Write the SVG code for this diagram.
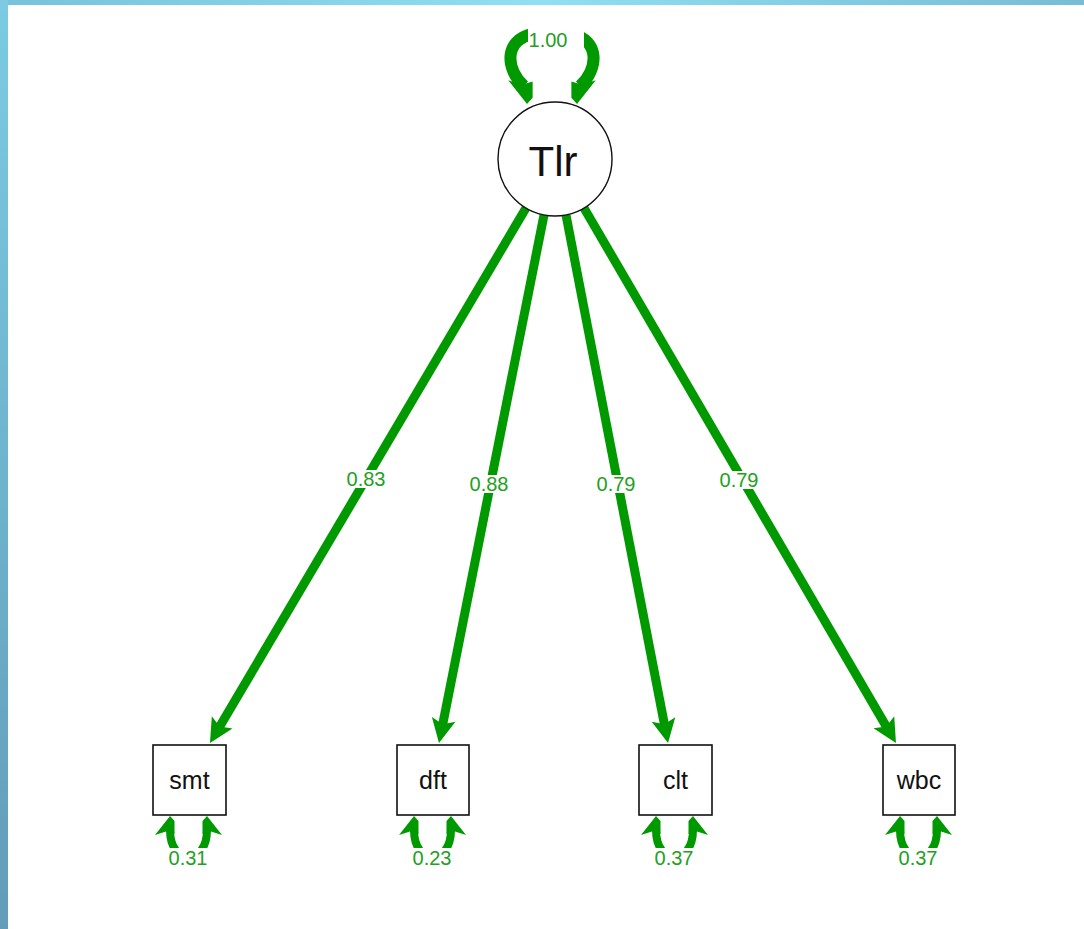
<svg xmlns="http://www.w3.org/2000/svg" width="1084" height="929" viewBox="0 0 1084 929">
  <style>
    .path { fill: none; stroke: #009900; stroke-linecap: butt; }
    .load { stroke-width: 9; }
    .res { stroke-width: 8; }
    .var { stroke-width: 12; }
    .head { fill: #009900; }
    .lbl { font-family: "Liberation Sans", Arial, sans-serif; font-size: 20px; fill: #22a022; text-anchor: middle; }
    .lblbg { fill: #ffffff; }
    .obs { fill: #ffffff; stroke: #111111; stroke-width: 1.6; }
    .lat { fill: #ffffff; stroke: #111111; stroke-width: 1.4; }
    .name { font-family: "Liberation Sans", Arial, sans-serif; fill: #111111; text-anchor: middle; }
  </style>
  <defs>
    <linearGradient id="topband" x1="0" y1="0" x2="1" y2="0">
      <stop offset="0" stop-color="#78c2dc"/>
      <stop offset="0.5" stop-color="#8ee0f2"/>
      <stop offset="1" stop-color="#78bcd6"/>
    </linearGradient>
    <linearGradient id="leftband" x1="0" y1="0" x2="0" y2="1">
      <stop offset="0" stop-color="#7ccbe2"/>
      <stop offset="1" stop-color="#629cb9"/>
    </linearGradient>
    <!-- loading arrowhead, tip 16px beyond the line end -->
    <marker id="arrow" markerUnits="userSpaceOnUse" markerWidth="1" markerHeight="1" orient="auto" refX="0" refY="0" overflow="visible">
      <path class="head" d="M16,0 L-8,-12 L-3,0 L-8,12 Z"/>
    </marker>
    <!-- half-kite head pointing up, wing to the left, tip at origin -->
    <path id="hk" class="head" d="M0,0 L4.5,5 L4.5,18 L-4,15.5 L-15,19 Z"/>
  </defs>

  <!-- window frame -->
  <rect x="0" y="0" width="1084" height="929" fill="#ffffff"/>
  <rect x="0" y="0" width="1084" height="5" fill="url(#topband)"/>
  <rect x="0" y="0" width="8" height="929" fill="url(#leftband)"/>

  <g id="connectors">
    <!-- factor loadings -->
    <g id="e-smt">
      <line class="path load" x1="526" y1="208" x2="218.1" y2="729.2" marker-end="url(#arrow)"/>
      <rect class="lblbg" x="345" y="470" width="43" height="18"/>
      <text class="lbl" x="366" y="486">0.83</text>
    </g>
    <g id="e-dft">
      <line class="path load" x1="544" y1="215" x2="442.1" y2="727.3" marker-end="url(#arrow)"/>
      <rect class="lblbg" x="468" y="475" width="43" height="18"/>
      <text class="lbl" x="489" y="491">0.88</text>
    </g>
    <g id="e-clt">
      <line class="path load" x1="566" y1="215" x2="665" y2="727.3" marker-end="url(#arrow)"/>
      <rect class="lblbg" x="595" y="475" width="43" height="18"/>
      <text class="lbl" x="616" y="491">0.79</text>
    </g>
    <g id="e-wbc">
      <line class="path load" x1="584" y1="208" x2="887.9" y2="729.2" marker-end="url(#arrow)"/>
      <rect class="lblbg" x="718" y="471" width="43" height="18"/>
      <text class="lbl" x="739" y="487">0.79</text>
    </g>

    <!-- latent variance loop -->
    <g id="v-Tlr">
      <path class="path var" d="M524,86 C506,70 503,40 533,34 L571,34 C601,40 598,70 580,86"/>
      <use href="#hk" transform="translate(527,104) scale(1.25,-1.25)"/>
      <use href="#hk" transform="translate(577,104) scale(-1.25,-1.25)"/>
      <rect class="lblbg" x="528" y="27" width="56" height="24"/>
      <text class="lbl" x="548" y="47">1.00</text>
    </g>

    <!-- residual variances -->
    <g id="v-smt">
      <path class="path res" d="M170,830 C170,866 207,866 207,830"/>
      <use href="#hk" transform="translate(170,816)"/>
      <use href="#hk" transform="translate(207,816) scale(-1,1)"/>
      <rect class="lblbg" x="166" y="848" width="45" height="20"/>
      <text class="lbl" x="188" y="865">0.31</text>
    </g>
    <g id="v-dft">
      <path class="path res" d="M414,830 C414,866 451,866 451,830"/>
      <use href="#hk" transform="translate(414,816)"/>
      <use href="#hk" transform="translate(451,816) scale(-1,1)"/>
      <rect class="lblbg" x="410" y="848" width="45" height="20"/>
      <text class="lbl" x="432" y="865">0.23</text>
    </g>
    <g id="v-clt">
      <path class="path res" d="M656,830 C656,866 693,866 693,830"/>
      <use href="#hk" transform="translate(656,816)"/>
      <use href="#hk" transform="translate(693,816) scale(-1,1)"/>
      <rect class="lblbg" x="652" y="848" width="45" height="20"/>
      <text class="lbl" x="674" y="865">0.37</text>
    </g>
    <g id="v-wbc">
      <path class="path res" d="M900,830 C900,866 937,866 937,830"/>
      <use href="#hk" transform="translate(900,816)"/>
      <use href="#hk" transform="translate(937,816) scale(-1,1)"/>
      <rect class="lblbg" x="896" y="848" width="45" height="20"/>
      <text class="lbl" x="918" y="865">0.37</text>
    </g>
  </g>

  <!-- latent factor -->
  <g id="Tlr">
    <circle class="lat" cx="555" cy="159" r="57"/>
    <text class="name" x="553" y="176" font-size="42">Tlr</text>
  </g>

  <!-- observed indicators -->
  <g id="smt">
    <rect class="obs" x="153" y="745" width="73" height="70"/>
    <text class="name" x="189.5" y="789" font-size="25">smt</text>
  </g>
  <g id="dft">
    <rect class="obs" x="397" y="745" width="72" height="70"/>
    <text class="name" x="433" y="789" font-size="25">dft</text>
  </g>
  <g id="clt">
    <rect class="obs" x="639" y="745" width="73" height="70"/>
    <text class="name" x="675.5" y="789" font-size="25">clt</text>
  </g>
  <g id="wbc">
    <rect class="obs" x="883" y="745" width="72" height="70"/>
    <text class="name" x="919" y="789" font-size="25">wbc</text>
  </g>
</svg>
